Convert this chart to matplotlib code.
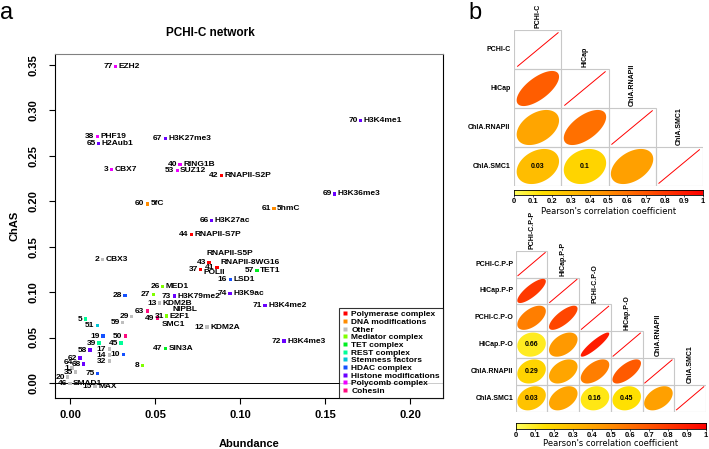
import numpy as np
import matplotlib

matplotlib.use("Agg")
import matplotlib.pyplot as plt
from matplotlib.colors import LinearSegmentedColormap
from matplotlib.lines import Line2D
from matplotlib.patches import Polygon, Rectangle

plt.rcParams["font.family"] = ["Liberation Sans", "DejaVu Sans"]

W, H = 709, 449

# ---------------- panel a: PCHI-C network ----------------
categories = ["Polymerase complex", "DNA modifications", "Other", "Mediator complex",
              "TET complex", "REST complex", "Stemness factors", "HDAC complex",
              "Histone modifications", "Polycomb complex", "Cohesin"]
category_colors = ["#FF0000", "#FF8C00", "#BEBEBE", "#80FF00", "#00EE22", "#00FF99",
                   "#00C5D5", "#1450FF", "#6A00FF", "#EE00FF", "#FF0A80"]

point_ids = [77, 38, 65, 67, 3, 40, 53, 42, 70, 69, 61, 60, 66, 44, 2, 43, 41, 37,
             16, 57, 74, 73, 71, 72, 12, 26, 27, 13, 49, 31, 63, 29, 59, 28, 5, 51,
             50, 47, 8, 10, 75, 19, 39, 45, 17, 14, 32, 58, 62, 64, 68, 1, 20, 46,
             15, 35]
point_names = ["EZH2", "PHF19", "H2Aub1", "H3K27me3", "CBX7", "RING1B", "SUZ12",
               "RNAPII-S2P", "H3K4me1", "H3K36me3", "5hmC", "5fC", "H3K27ac",
               "RNAPII-S7P", "CBX3", "RNAPII-S5P", "RNAPII-8WG16", "POLII", "LSD1",
               "TET1", "H3K9ac", "H3K79me2", "H3K4me2", "H3K4me3", "KDM2A", "MED1",
               "NIPBL", "KDM2B", "SMC1", "E2F1", "", "", "", "", "", "", "", "SIN3A",
               "", "", "", "", "", "", "", "", "", "", "", "", "", "", "", "SMAD1",
               "MAX", ""]
abundance = [0.027, 0.016, 0.017, 0.056, 0.0245, 0.0647, 0.063, 0.089, 0.171, 0.1557,
             0.120, 0.0455, 0.0834, 0.0716, 0.019, 0.0818, 0.0865, 0.0769, 0.0943,
             0.110, 0.0941, 0.0614, 0.1147, 0.1259, 0.0806, 0.0545, 0.049, 0.0529,
             0.0516, 0.057, 0.0455, 0.0363, 0.031, 0.0324, 0.0092, 0.0163, 0.0325,
             0.0563, 0.0428, 0.0314, 0.0163, 0.0194, 0.0171, 0.030, 0.023, 0.023,
             0.023, 0.0118, 0.0059, 0.0035, 0.0082, 0.0012, -0.0012, 0.0, 0.0147,
             0.0035]
chas = [0.348, 0.271, 0.264, 0.269, 0.235, 0.240, 0.234, 0.228, 0.289, 0.208, 0.192,
        0.197, 0.1786, 0.1637, 0.1354, 0.1324, 0.1269, 0.1244, 0.1141, 0.124, 0.098,
        0.0957, 0.085, 0.0462, 0.0616, 0.106, 0.0976, 0.088, 0.0715, 0.0737, 0.0792,
        0.073, 0.0664, 0.0961, 0.0704, 0.0635, 0.0517, 0.0382, 0.0195, 0.0311,
        0.0107, 0.0517, 0.044, 0.044, 0.0374, 0.0308, 0.0242, 0.0363, 0.0275,
        0.0231, 0.0209, 0.0165, 0.0066, -0.001, -0.0033, 0.0121]
point_cats = [9, 9, 8, 8, 9, 9, 9, 0, 8, 8, 1, 1, 8, 0, 2, 0, 0, 0, 7, 4, 8, 8, 8, 8,
              2, 3, 3, 2, 10, 3, 10, 2, 2, 7, 5, 6, 10, 4, 3, 7, 7, 7, 5, 5, 2, 2, 2,
              8, 8, 2, 8, 2, 2, 2, 2, 2]

x_ticks = [0.0, 0.05, 0.10, 0.15, 0.20]
y_ticks = [0.0, 0.05, 0.10, 0.15, 0.20, 0.25, 0.30, 0.35]

# label nudges (points) where names were shifted to avoid overlap
name_nudge = {43: (-4.3, 6.3), 41: (0, 4.0), 37: (0, -1.5), 27: (11.3, -10.6),
              49: (1.0, -4.5)}

# ---------------- panel b: correlation matrices ----------------
top_labels = ["PCHI-C", "HiCap", "ChIA.RNAPII", "ChIA.SMC1"]
top_corr = [[1.0],
            [0.67, 1.0],
            [0.40, 0.60, 1.0],
            [0.30, 0.20, 0.42, 1.0]]
top_pval = [[None],
            [None, None],
            [None, None, None],
            ["0.03", "0.1", None, None]]

bottom_labels = ["PCHI-C.P-P", "HiCap.P-P", "PCHI-C.P-O", "HiCap.P-O",
                 "ChIA.RNAPII", "ChIA.SMC1"]
bottom_corr = [[1.0],
               [0.80, 1.0],
               [0.55, 0.75, 1.0],
               [0.10, 0.45, 0.90, 1.0],
               [0.20, 0.40, 0.55, 0.68, 1.0],
               [0.27, 0.40, 0.12, 0.15, 0.42, 1.0]]
bottom_pval = [[None],
               [None, None],
               [None, None, None],
               ["0.66", None, None, None],
               ["0.29", None, None, None, None],
               ["0.03", None, "0.16", "0.45", None, None]]

cbar_ticks = [0, 0.1, 0.2, 0.3, 0.4, 0.5, 0.6, 0.7, 0.8, 0.9, 1]
cbar_ticklabels = ["0", "0.1", "0.2", "0.3", "0.4", "0.5", "0.6", "0.7", "0.8", "0.9", "1"]

cmap = LinearSegmentedColormap.from_list(
    "yr", [(0, "#FFFF60"), (0.15, "#FFE000"), (0.45, "#FF9900"), (0.7, "#FF5500"),
           (1, "#FF0000")])


def px_box(x0, y0, x1, y1):
    return [x0 / W, 1 - y1 / H, (x1 - x0) / W, (y1 - y0) / H]


def draw_corr(ax, labels, corr, pvals):
    n = len(labels)
    ax.set_xlim(0, n)
    ax.set_ylim(n, 0)
    ax.axis("off")
    t = np.linspace(0, 2 * np.pi, 120)
    for i in range(n):
        for j in range(i + 1):
            ax.add_patch(Rectangle((j, i), 1, 1, fill=False, ec="#C8C8C8", lw=0.8))
            r = corr[i][j]
            if i == j:
                ax.plot([j + 0.07, j + 0.93], [i + 0.93, i + 0.07], color="red", lw=0.7)
                continue
            d = np.arccos(r)
            ex = 0.45 * np.cos(t + d / 2)
            ey = 0.45 * np.cos(t - d / 2)
            ax.add_patch(Polygon(np.c_[j + 0.5 + ex, i + 0.5 - ey], closed=True,
                                 fc=cmap(r), ec="none"))
            if pvals[i][j]:
                ax.text(j + 0.5, i + 0.5, pvals[i][j], ha="center", va="center",
                        fontsize=5, fontweight="bold")
        ax.text(-0.08, i + 0.5, labels[i], ha="right", va="center", fontsize=5,
                fontweight="bold", clip_on=False)
        ax.text(i + 0.5, i - 0.06, labels[i], ha="center", va="bottom", rotation=90,
                fontsize=5, fontweight="bold", clip_on=False)


def draw_cbar(cax, labelpad=1):
    cax.imshow(np.linspace(0, 1, 256)[None, :], aspect="auto", cmap=cmap,
               extent=[0, 1, 0, 1], vmin=0, vmax=1)
    cax.set_yticks([])
    cax.set_xticks(cbar_ticks)
    cax.set_xticklabels(cbar_ticklabels, fontweight="bold")
    cax.tick_params(axis="x", length=1.5, width=0.5, pad=1, labelsize=5.5)
    for s in cax.spines.values():
        s.set_linewidth(0.6)
    cax.set_xlabel("Pearson's correlation coefficient", fontsize=6,
                   family="DejaVu Sans", labelpad=labelpad)


fig = plt.figure(figsize=(W / 100, H / 100), dpi=100)

# ---- scatter
ax = fig.add_axes(px_box(55, 54, 443, 398))
cols = [category_colors[c] for c in point_cats]
ax.scatter(abundance, chas, marker="s", s=5, c=cols, linewidths=0, zorder=3)
ax.axhline(0, color="black", lw=0.7, zorder=1)
for pid, name, x, y in zip(point_ids, point_names, abundance, chas):
    ax.annotate(str(pid), (x, y), xytext=(-2.2, 0), textcoords="offset points",
                ha="right", va="center", fontsize=6, fontweight="bold")
    if name:
        dx, dy = name_nudge.get(pid, (0, 0))
        ax.annotate(name, (x, y), xytext=(2.2 + dx, dy), textcoords="offset points",
                    ha="left", va="center", fontsize=6, fontweight="bold")

ax.set_xlim(-0.0088, 0.2194)
ax.set_ylim(-0.0165, 0.362)
ax.set_xticks(x_ticks)
ax.set_xticklabels([f"{v:.2f}" for v in x_ticks], fontweight="bold")
ax.set_yticks(y_ticks)
ax.set_yticklabels([f"{v:.2f}" for v in y_ticks], fontweight="bold", rotation=90,
                   va="center")
ax.tick_params(axis="both", labelsize=8, length=4, width=0.8)
ax.tick_params(axis="x", pad=5)
ax.tick_params(axis="y", pad=8)
for s in ax.spines.values():
    s.set_linewidth(0.8)
ax.spines["top"].set_color("#808080")

handles = [Line2D([], [], marker="s", ls="none", mfc=c, mec="none", ms=2.5)
           for c in category_colors]
leg = ax.legend(handles, categories, loc="lower right", bbox_to_anchor=(1, 0),
                borderaxespad=0, fancybox=False, edgecolor="black",
                prop={"size": 6, "weight": "bold"}, labelspacing=-0.02,
                handlelength=0.6, handletextpad=0.5, borderpad=0.35)
leg.get_frame().set_linewidth(0.8)

fig.text(210 / W, 1 - 33 / H, "PCHI-C network", ha="center", va="center",
         fontsize=8.5, fontweight="bold")
fig.text(249 / W, 1 - 444 / H, "Abundance", ha="center", va="center", fontsize=8,
         fontweight="bold")
fig.text(14 / W, 1 - 226 / H, "ChAS", ha="center", va="center", fontsize=8,
         fontweight="bold", rotation=90)
fig.text(7 / W, 1 - 13 / H, "a", ha="center", va="center", fontsize=17)
fig.text(475 / W, 1 - 13 / H, "b", ha="center", va="center", fontsize=17)

# ---- correlation matrices
ax_t = fig.add_axes(px_box(514.3, 30, 702.7, 186))
draw_corr(ax_t, top_labels, top_corr, top_pval)
draw_cbar(fig.add_axes(px_box(514.3, 190, 702.7, 195)))

ax_b = fig.add_axes(px_box(515.7, 250.7, 706, 411.7))
draw_corr(ax_b, bottom_labels, bottom_corr, bottom_pval)
draw_cbar(fig.add_axes(px_box(515.7, 423, 706, 429)), labelpad=0)

fig.savefig("out.png", dpi=100)
